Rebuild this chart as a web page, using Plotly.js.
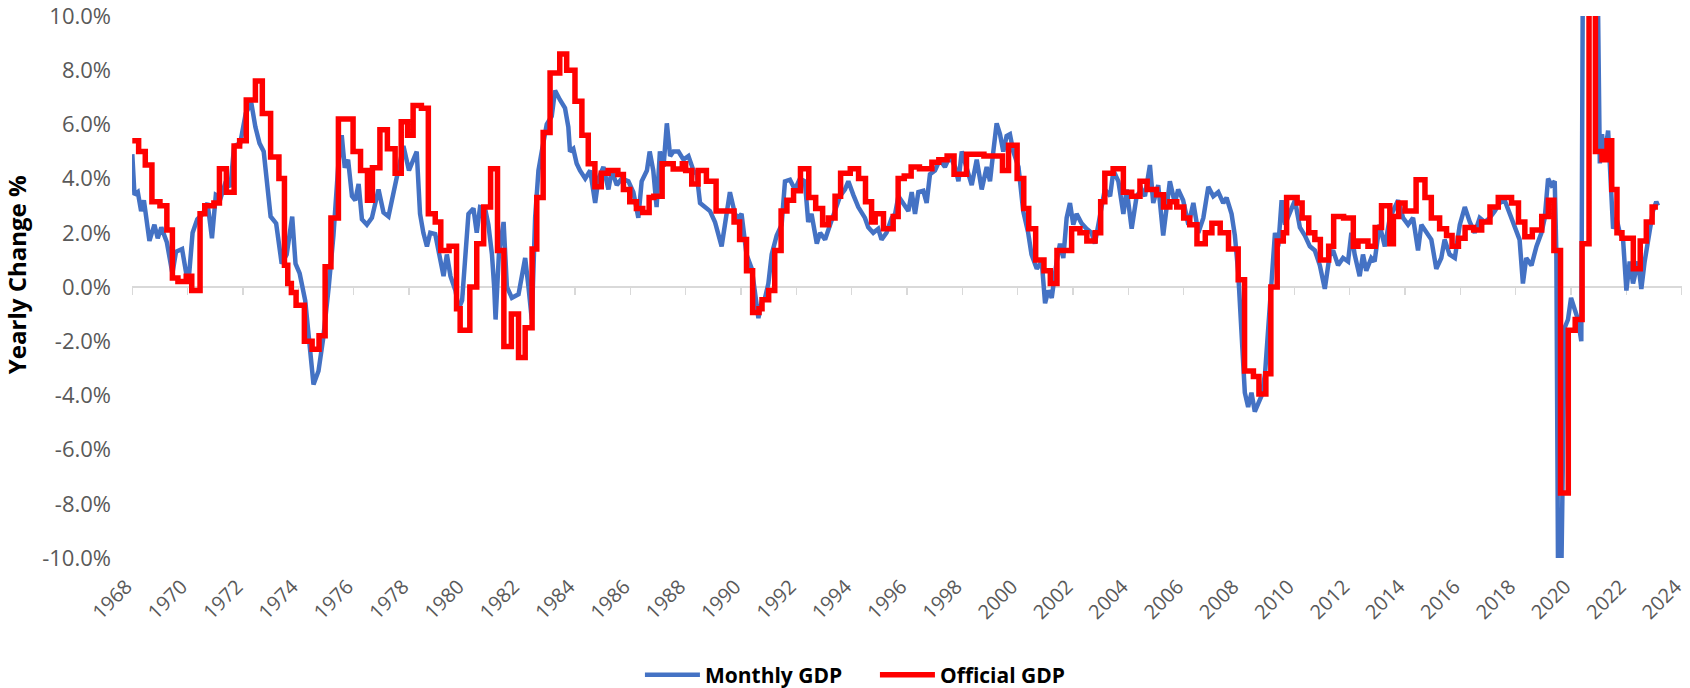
<!DOCTYPE html>
<html><head><meta charset="utf-8">
<script src="https://cdn.plot.ly/plotly-3.0.1.min.js"></script>
<style>html,body{margin:0;padding:0;background:#fff}#chart{width:1690px;height:688px}</style>
</head><body><div id="chart"></div>
<script>
const monthlyYears = [1968.0,1968.08,1968.2,1968.32,1968.42,1968.62,1968.8,1968.92,1969.05,1969.25,1969.45,1969.58,1969.8,1969.95,1970.05,1970.18,1970.35,1970.55,1970.72,1970.88,1971.02,1971.2,1971.38,1971.55,1971.68,1971.9,1972.1,1972.3,1972.45,1972.6,1972.75,1972.87,1973.0,1973.2,1973.4,1973.58,1973.78,1973.9,1974.05,1974.25,1974.45,1974.55,1974.73,1974.9,1975.1,1975.27,1975.45,1975.57,1975.68,1975.8,1975.94,1976.06,1976.18,1976.3,1976.48,1976.66,1976.9,1977.08,1977.26,1977.44,1977.62,1977.8,1978.0,1978.17,1978.28,1978.4,1978.52,1978.65,1978.77,1978.95,1979.1,1979.25,1979.37,1979.5,1979.68,1979.8,1979.92,1980.03,1980.15,1980.33,1980.45,1980.57,1980.75,1980.87,1981.0,1981.08,1981.13,1981.25,1981.42,1981.54,1981.72,1981.96,1982.02,1982.2,1982.32,1982.44,1982.56,1982.68,1982.8,1982.98,1983.16,1983.28,1983.46,1983.64,1983.76,1983.82,1983.94,1984.06,1984.18,1984.37,1984.55,1984.73,1984.85,1985.03,1985.21,1985.33,1985.51,1985.69,1985.93,1986.11,1986.29,1986.41,1986.6,1986.7,1986.83,1986.95,1987.07,1987.2,1987.32,1987.44,1987.56,1987.74,1987.92,1988.1,1988.28,1988.4,1988.52,1988.7,1988.88,1989.06,1989.18,1989.3,1989.42,1989.6,1989.78,1989.9,1990.02,1990.2,1990.39,1990.51,1990.63,1990.75,1990.87,1990.99,1991.11,1991.29,1991.47,1991.59,1991.77,1991.95,1992.13,1992.31,1992.43,1992.55,1992.74,1992.86,1993.04,1993.22,1993.4,1993.58,1993.76,1993.88,1994.06,1994.24,1994.48,1994.6,1994.78,1994.96,1995.08,1995.26,1995.45,1995.57,1995.69,1995.87,1996.05,1996.17,1996.29,1996.41,1996.59,1996.71,1996.83,1997.01,1997.19,1997.37,1997.55,1997.74,1997.86,1997.98,1998.16,1998.34,1998.52,1998.7,1998.88,1999.0,1999.12,1999.24,1999.36,1999.48,1999.6,1999.72,1999.84,2000.03,2000.2,2000.38,2000.5,2000.69,2000.87,2000.99,2001.11,2001.23,2001.41,2001.53,2001.65,2001.77,2001.89,2002.01,2002.13,2002.31,2002.49,2002.67,2002.79,2002.97,2003.15,2003.34,2003.46,2003.64,2003.82,2003.94,2004.12,2004.3,2004.48,2004.6,2004.78,2004.9,2005.08,2005.26,2005.38,2005.5,2005.68,2005.8,2005.98,2006.17,2006.35,2006.53,2006.71,2006.89,2007.07,2007.25,2007.43,2007.55,2007.73,2007.85,2007.97,2008.09,2008.21,2008.33,2008.45,2008.57,2008.69,2008.82,2008.94,2009.06,2009.18,2009.3,2009.42,2009.54,2009.66,2009.84,2010.02,2010.2,2010.38,2010.56,2010.74,2010.92,2011.1,2011.28,2011.4,2011.58,2011.76,2011.94,2012.06,2012.18,2012.36,2012.48,2012.6,2012.78,2012.9,2013.08,2013.27,2013.45,2013.63,2013.75,2013.93,2014.11,2014.29,2014.47,2014.59,2014.77,2014.95,2015.13,2015.31,2015.43,2015.61,2015.8,2015.98,2016.16,2016.34,2016.52,2016.7,2016.88,2017.06,2017.24,2017.42,2017.6,2017.78,2017.96,2018.14,2018.26,2018.38,2018.57,2018.75,2018.93,2019.05,2019.17,2019.29,2019.41,2019.47,2019.53,2019.65,2019.77,2019.89,2020.0,2020.13,2020.25,2020.37,2020.43,2020.95,2021.04,2021.12,2021.2,2021.34,2021.45,2021.52,2021.64,2021.76,2021.88,2022.0,2022.12,2022.24,2022.42,2022.54,2022.66,2022.84,2022.96,2023.08,2023.14];
const monthlyGDP = [4.9,3.4,3.5,2.8,3.2,1.7,2.3,1.8,2.2,1.65,0.5,1.3,1.4,0.5,0.4,2.0,2.5,2.7,3.1,1.8,3.4,3.3,3.9,3.7,5.2,5.3,6.4,6.8,5.9,5.3,5.0,3.8,2.6,2.35,0.86,1.2,2.6,0.86,0.5,-0.5,-2.5,-3.6,-3.1,-1.9,0.0,1.9,4.56,5.6,4.4,4.7,3.35,3.2,3.8,2.5,2.3,2.55,3.6,2.75,2.6,3.5,4.4,5.2,4.3,4.7,5.0,2.7,2.0,1.5,2.0,1.95,1.07,0.4,1.2,0.4,-0.13,-0.8,-0.5,1.07,2.7,2.9,2.0,2.95,2.9,2.3,1.2,0.0,-1.2,1.2,2.4,0.0,-0.4,-0.27,0.13,1.07,0.0,-1.2,2.55,4.3,5.0,6.0,6.3,7.25,6.9,6.6,5.9,5.0,5.1,4.56,4.3,4.0,4.3,3.1,4.0,4.43,3.6,4.3,3.76,4.0,3.9,3.5,2.55,3.9,4.3,5.0,4.3,2.95,5.0,4.43,6.04,4.83,5.0,5.0,4.7,4.83,4.3,4.16,3.1,2.95,2.8,2.4,2.0,1.5,2.3,3.5,2.7,2.55,2.7,1.2,0.67,-0.13,-1.15,-0.54,-0.4,0.13,1.2,1.9,2.3,3.9,3.96,3.6,4.0,3.9,2.4,2.7,1.6,2.0,1.75,2.3,2.8,3.35,3.6,3.9,3.4,2.95,2.55,2.2,2.0,2.15,1.75,2.0,2.55,2.7,3.35,3.1,2.8,3.5,2.7,3.5,3.55,3.1,4.16,4.3,4.7,4.43,4.83,4.43,3.9,5.0,4.3,3.76,4.7,3.6,4.43,3.9,5.0,6.04,5.64,5.0,5.57,5.64,5.0,4.43,2.8,2.0,1.2,0.67,0.94,-0.6,-0.13,-0.4,0.94,1.6,1.07,2.55,3.1,2.3,2.7,2.35,2.15,2.0,1.6,2.55,3.6,3.35,4.3,3.9,2.7,3.6,2.15,3.35,3.6,3.35,4.5,3.1,3.76,1.9,2.95,3.9,3.1,3.6,3.2,2.3,3.1,2.0,2.55,3.7,3.35,3.5,3.1,3.3,2.7,1.9,0.54,-2.0,-3.9,-4.43,-3.9,-4.6,-4.3,-4.0,-3.2,-1.5,0.27,2.0,1.5,3.2,2.3,2.8,3.2,2.2,1.9,1.5,1.35,0.8,-0.07,1.2,1.35,0.8,1.07,0.94,2.0,1.2,0.4,1.2,0.6,1.07,0.94,2.3,1.5,2.55,2.95,3.2,2.55,2.3,2.55,1.35,2.3,2.0,1.75,0.67,1.07,1.75,1.2,1.07,2.3,2.95,2.4,2.0,2.55,2.4,2.55,2.8,3.1,3.2,2.7,2.15,1.75,0.13,1.07,0.8,1.5,2.0,2.55,4.0,3.76,3.9,1.2,-10.5,-10.5,-1.5,-1.2,-0.4,-0.8,-1.2,-2.0,12.5,12.5,4.56,5.64,4.7,5.77,3.6,2.15,2.55,2.0,1.75,-0.13,0.94,0.13,0.94,-0.07,0.94,2.0,2.8,3.15,3.0];
const officialYears = [1968.0,1968.23,1968.47,1968.71,1969.0,1969.25,1969.45,1969.65,1969.95,1970.15,1970.45,1970.62,1970.95,1971.15,1971.4,1971.68,1971.88,1972.12,1972.45,1972.7,1973.0,1973.3,1973.5,1973.62,1973.75,1973.92,1974.22,1974.5,1974.75,1974.97,1975.18,1975.45,1975.98,1976.25,1976.5,1976.68,1976.95,1977.22,1977.5,1977.72,1977.95,1978.15,1978.45,1978.7,1978.95,1979.15,1979.45,1979.72,1979.85,1980.2,1980.45,1980.7,1980.95,1981.2,1981.43,1981.7,1981.96,1982.2,1982.45,1982.62,1982.85,1983.1,1983.45,1983.7,1984.0,1984.25,1984.48,1984.72,1984.95,1985.2,1985.55,1985.75,1985.98,1986.22,1986.45,1986.68,1986.85,1987.15,1987.55,1987.88,1988.0,1988.22,1988.45,1988.75,1989.1,1989.75,1989.95,1990.2,1990.42,1990.65,1990.76,1991.0,1991.22,1991.45,1991.66,1991.9,1992.15,1992.45,1992.7,1992.95,1993.16,1993.4,1993.6,1993.95,1994.25,1994.5,1994.72,1994.85,1995.15,1995.5,1995.68,1995.9,1996.15,1996.45,1996.9,1997.15,1997.45,1997.7,1998.15,1998.78,1999.45,1999.67,1999.98,2000.22,2000.4,2000.65,2000.95,2001.18,2001.42,2001.95,2002.25,2002.5,2002.8,2003.0,2003.15,2003.45,2003.82,2004.12,2004.42,2004.68,2005.02,2005.27,2005.5,2005.75,2006.0,2006.22,2006.48,2006.78,2007.02,2007.32,2007.62,2007.97,2008.2,2008.52,2008.72,2008.97,2009.15,2009.38,2009.6,2009.72,2010.1,2010.28,2010.52,2010.74,2010.94,2011.24,2011.42,2011.78,2012.13,2012.3,2012.66,2012.92,2013.15,2013.45,2013.58,2013.77,2014.0,2014.4,2014.72,2014.95,2015.25,2015.5,2015.7,2015.93,2016.17,2016.48,2016.77,2017.07,2017.37,2017.85,2018.1,2018.33,2018.6,2018.94,2019.18,2019.38,2019.62,2019.9,2020.15,2020.4,2020.65,2020.88,2021.12,2021.3,2021.47,2021.66,2021.84,2022.25,2022.5,2022.72,2022.93,2023.14];
const officialGDP = [5.4,5.0,4.5,3.15,3.0,2.1,0.33,0.2,0.4,-0.13,2.7,3.0,3.1,4.36,3.5,5.2,5.4,6.9,7.6,6.4,4.8,4.0,0.8,0.13,-0.2,-0.67,-2.0,-2.3,-1.8,0.75,2.55,6.2,5.0,4.3,3.2,4.4,5.8,5.1,4.2,6.1,5.6,6.7,6.6,2.7,2.4,1.35,1.5,-0.8,-1.6,0.0,1.6,2.95,4.36,1.35,-2.2,-1.0,-2.6,-1.5,1.4,3.3,5.7,7.9,8.6,8.0,6.85,5.6,4.55,3.7,4.2,4.3,4.15,3.6,3.15,2.9,2.75,3.3,3.35,4.55,4.35,4.55,4.3,3.8,4.3,3.9,2.8,2.4,1.75,0.6,-0.94,-0.8,-0.47,-0.13,1.35,2.8,3.2,3.55,4.36,3.3,2.9,2.3,2.55,3.35,4.2,4.36,4.0,3.15,2.4,2.7,2.15,2.6,4.0,4.1,4.43,4.36,4.6,4.7,4.83,4.16,4.9,4.83,4.3,5.23,4.0,2.9,2.15,1.0,0.6,0.13,1.35,2.15,2.0,1.7,2.0,3.15,4.2,4.36,3.5,3.35,3.9,3.6,3.4,2.95,3.15,2.95,2.55,2.3,1.6,2.0,2.35,2.0,1.4,0.27,-3.1,-3.3,-3.95,-3.2,0.0,1.7,2.0,3.3,3.1,2.55,2.0,1.75,1.0,1.5,2.6,2.55,1.5,1.7,1.5,2.2,3.0,1.6,2.6,3.1,2.8,3.96,3.3,2.55,2.15,1.9,1.5,1.8,2.2,2.1,2.4,2.95,3.3,3.1,2.4,1.85,2.1,2.6,3.2,1.35,-7.6,-1.6,-1.2,1.6,12.5,5.0,4.7,5.4,3.6,2.0,1.8,0.67,1.7,2.4,2.95,2.95];
const yearTicks = [1968,1970,1972,1974,1976,1978,1980,1982,1984,1986,1988,1990,1992,1994,1996,1998,2000,2002,2004,2006,2008,2010,2012,2014,2016,2018,2020,2022,2024];
const pctTicks = [-10,-8,-6,-4,-2,0,2,4,6,8,10];
const pctLabels = ['-10.0%','-8.0%','-6.0%','-4.0%','-2.0%','0.0%','2.0%','4.0%','6.0%','8.0%','10.0%'];
const yTitle = 'Yearly Change %';

const traces = [
  {x: monthlyYears, y: monthlyGDP, type:'scatter', mode:'lines', name:'Monthly GDP',
   line:{color:'#4472C4', width:4.5}, xaxis:'x', yaxis:'y'},
  {x: officialYears, y: officialGDP, type:'scatter', mode:'lines', name:'Official GDP',
   line:{color:'#FF0000', width:5.5, shape:'hv'}, xaxis:'x2', yaxis:'y'}
];
const xr = [1967.99, 2024.01];
const layout = {
  width:1690, height:688,
  margin:{l:132, r:8, t:16, b:130, autoexpand:false},
  paper_bgcolor:'#ffffff', plot_bgcolor:'#ffffff',
  font:{family:'Open Sans, sans-serif', color:'#595959'},
  showlegend:true,
  xaxis:{range:xr, tickvals:yearTicks, ticktext:yearTicks.map(String), tickangle:-45,
    tickfont:{size:20, color:'#595959'}, showgrid:false, zeroline:false, showline:false, ticks:'',
    ticklabelstandoff:12, ticklabelshift:-6, ticklabeloverflow:'allow', fixedrange:true},
  xaxis2:{overlaying:'x', anchor:'free', position:0.5, range:xr, tickvals:yearTicks,
    showticklabels:false, ticks:'outside', ticklen:7, tickwidth:1.5, tickcolor:'#d9d9d9',
    showline:true, linecolor:'#d9d9d9', linewidth:2, showgrid:false, zeroline:false, layer:'below traces'},
  yaxis:{range:[-10,10], tickvals:pctTicks, ticktext:pctLabels, tickfont:{size:22, color:'#595959'},
    showgrid:false, zeroline:false, showline:false, ticks:'', ticklabelstandoff:20,
    ticklabeloverflow:'allow'},
  annotations:[{text:yTitle, xref:'paper', yref:'paper', x:-0.0748, y:0.522, xanchor:'center', yanchor:'middle',
    textangle:-90, showarrow:false, font:{size:24, color:'#000000', weight:'bold', family:'Open Sans, sans-serif'}}],
  legend:{orientation:'h', x:0.3277, xanchor:'left', y:-0.216, yanchor:'middle',
    itemwidth:55, entrywidth:165, entrywidthmode:'pixels',
    font:{size:21, color:'#000000', weight:'bold'}, bgcolor:'rgba(0,0,0,0)'}
};
Plotly.newPlot('chart', traces, layout, {displayModeBar:false, staticPlot:true});
</script></body></html>
